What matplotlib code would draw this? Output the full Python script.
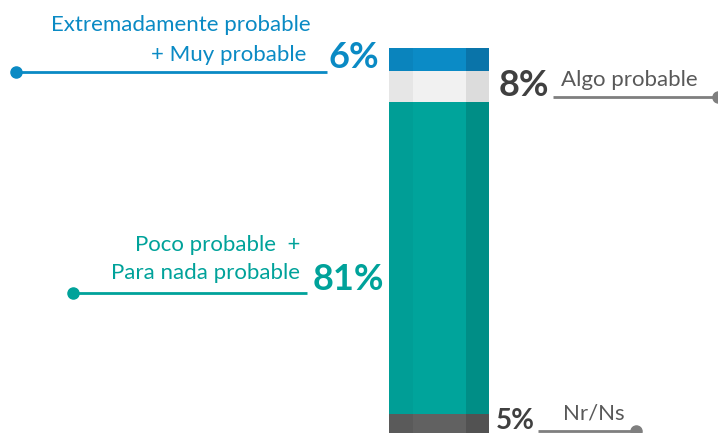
import matplotlib
matplotlib.use('Agg')
import matplotlib.pyplot as plt
from matplotlib.transforms import Affine2D
import numpy as np

# Survey answers, top to bottom of the stacked bar
labels = ['Extremadamente probable\n+ Muy probable', 'Algo probable',
          'Poco probable  +\nPara nada probable', 'Nr/Ns']
values = [6, 8, 81, 5]

# left stripe, middle, right stripe for each segment
shades = [
    ['#0a84bd', '#0b8bc6', '#0a74a9'],
    ['#e6e6e6', '#f1f1f1', '#dcdcdc'],
    ['#009e96', '#00a49b', '#008e86'],
    ['#5a5a5a', '#616161', '#525252'],
]

W, H = 718, 433
plt.rcParams['font.family'] = ['Lato', 'DejaVu Sans']

fig = plt.figure(figsize=(W / 100, H / 100), dpi=100)
ax = fig.add_axes([0, 0, 1, 1])
ax.set_xlim(0, W)
# bar occupies pixel rows 48..433; 100% -> 385 px
top_px, bot_px = 48, 433
scale = (bot_px - top_px) / 100.0
ax.set_ylim(100, -top_px / scale)
ax.axis('off')

# pixel-space transform (origin top-left)
px = Affine2D().scale(1, -1).translate(0, H)

stripes = [(389, 24), (413, 53), (466, 23)]
bottoms = np.concatenate([[0], np.cumsum(values)[:-1]])
for v, b, cols in zip(values, bottoms, shades):
    for (x0, w), c in zip(stripes, cols):
        ax.bar(x0, v, width=w, bottom=b, align='edge', color=c, linewidth=0)

blue = '#0a8ac4'
teal = '#00a29a'
dark = '#404040'
grey = '#595959'
line_grey = '#7f7f7f'
small = 16
big = 26

# left callouts
ax.text(311, 25, 'Extremadamente probable', transform=px, ha='right', va='center',
        color=blue, fontsize=small)
ax.text(306, 55, '+ Muy probable', transform=px, ha='right', va='center',
        color=blue, fontsize=small)
ax.text(379, 58, f'{values[0]}%', transform=px, ha='right', va='center',
        color=blue, fontsize=big, fontweight='bold')
ax.plot([16, 327], [72, 72], transform=px, color=blue, lw=2, solid_capstyle='butt')
ax.plot([16], [72], 'o', transform=px, color=blue, ms=8)

ax.text(300, 245, 'Poco probable  +', transform=px, ha='right', va='center',
        color=teal, fontsize=small)
ax.text(300, 273, 'Para nada probable', transform=px, ha='right', va='center',
        color=teal, fontsize=small)
ax.text(384, 279, f'{values[2]}%', transform=px, ha='right', va='center',
        color=teal, fontsize=big, fontweight='bold')
ax.plot([73, 307], [293, 293], transform=px, color=teal, lw=2, solid_capstyle='butt')
ax.plot([73], [293], 'o', transform=px, color=teal, ms=8)

# right callouts
ax.text(499, 86, f'{values[1]}%', transform=px, ha='left', va='center',
        color=dark, fontsize=big, fontweight='bold')
ax.text(561, 80, 'Algo probable', transform=px, ha='left', va='center',
        color=grey, fontsize=small)
ax.plot([553, 718], [97, 97], transform=px, color=line_grey, lw=2, solid_capstyle='butt')
ax.plot([718], [97], 'o', transform=px, color=line_grey, ms=8, clip_on=False)

ax.text(496, 421, f'{values[3]}%', transform=px, ha='left', va='center',
        color=dark, fontsize=20, fontweight='bold')
ax.text(563, 413, 'Nr/Ns', transform=px, ha='left', va='center',
        color=grey, fontsize=small)
ax.plot([538, 636], [431, 431], transform=px, color=line_grey, lw=2, solid_capstyle='butt')
ax.plot([636], [431], 'o', transform=px, color=line_grey, ms=8)

fig.savefig('out.png', dpi=100)
